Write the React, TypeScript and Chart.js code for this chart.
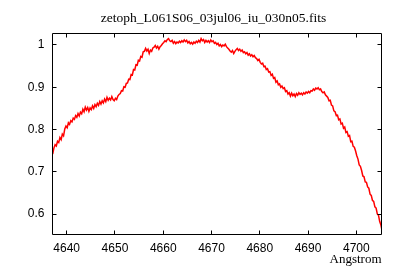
import React, { useEffect, useRef } from "react";
import { Chart, registerables } from "chart.js";

Chart.register(...registerables);

const TITLE = "zetoph_L061S06_03jul06_iu_030n05.fits";
const X_LABEL = "Angstrom";
const X_TICKS = [4640, 4650, 4660, 4670, 4680, 4690, 4700];
const Y_TICKS = [0.6, 0.7, 0.8, 0.9, 1.0];
const X_MIN = 4637.06;
const X_MAX = 4705.22;
const Y_MIN = 0.5515;
const Y_MAX = 1.0272;

// spectrum sampled every 0.25 Angstrom starting at 4637.1
const WAVE_START = 4637.1;
const WAVE_STEP = 0.25;
const FLUX = [
  0.742, 0.756, 0.764, 0.761, 0.772, 0.769, 0.781, 0.776, 0.789, 0.785,
  0.801, 0.808, 0.804, 0.816, 0.812, 0.821, 0.818, 0.827, 0.824, 0.833,
  0.829, 0.838, 0.832, 0.841, 0.837, 0.848, 0.842, 0.853, 0.846, 0.852,
  0.843, 0.851, 0.847, 0.856, 0.850, 0.859, 0.854, 0.862, 0.857, 0.866,
  0.860, 0.868, 0.863, 0.872, 0.866, 0.876, 0.869, 0.874, 0.870, 0.878,
  0.871, 0.868, 0.874, 0.871, 0.879, 0.883, 0.885, 0.892, 0.891, 0.901,
  0.900, 0.909, 0.910, 0.919, 0.918, 0.930, 0.929, 0.942, 0.941, 0.953,
  0.952, 0.964, 0.962, 0.973, 0.971, 0.984, 0.985, 0.992, 0.986, 0.990,
  0.980, 0.988, 0.985, 0.993, 0.995, 0.999, 0.993, 0.997, 0.990, 0.996,
  0.999, 1.003, 1.006, 1.010, 1.008, 1.013, 1.015, 1.010, 1.008, 1.011,
  1.004, 1.008, 1.003, 1.007, 1.005, 1.009, 1.006, 1.010, 1.007, 1.012,
  1.008, 1.011, 1.005, 1.008, 1.003, 1.006, 1.002, 1.007, 1.004, 1.009,
  1.006, 1.011, 1.007, 1.015, 1.010, 1.013, 1.006, 1.011, 1.007, 1.010,
  1.006, 1.012, 1.008, 1.010, 1.004, 1.006, 1.001, 1.004, 0.998, 1.001,
  0.996, 1.000, 0.998, 1.002, 0.996, 0.993, 0.990, 0.986, 0.983, 0.987,
  0.980, 0.985, 0.989, 0.992, 0.987, 0.990, 0.985, 0.988, 0.982, 0.984,
  0.979, 0.982, 0.976, 0.979, 0.974, 0.977, 0.972, 0.975, 0.970, 0.968,
  0.963, 0.966, 0.959, 0.955, 0.957, 0.949, 0.950, 0.942, 0.944, 0.936,
  0.937, 0.928, 0.931, 0.921, 0.923, 0.912, 0.915, 0.906, 0.908, 0.900,
  0.903, 0.897, 0.899, 0.890, 0.892, 0.884, 0.887, 0.879, 0.886, 0.880,
  0.884, 0.878, 0.885, 0.881, 0.887, 0.883, 0.886, 0.882, 0.887, 0.884,
  0.889, 0.886, 0.890, 0.887, 0.892, 0.891, 0.896, 0.893, 0.898, 0.896,
  0.899, 0.894, 0.896, 0.890, 0.887, 0.889, 0.882, 0.879, 0.876, 0.868,
  0.869, 0.858, 0.856, 0.844, 0.842, 0.833, 0.834, 0.823, 0.825, 0.813,
  0.815, 0.803, 0.806, 0.793, 0.795, 0.784, 0.786, 0.771, 0.772, 0.760,
  0.758, 0.749, 0.738, 0.730, 0.716, 0.713, 0.703, 0.690, 0.688, 0.676,
  0.675, 0.664, 0.661, 0.647, 0.644, 0.632, 0.630, 0.617, 0.614, 0.600,
  0.597, 0.582, 0.574, 0.560,
];

const SERIF = "'Liberation Serif', 'Times New Roman', serif";
const SANS = "'Liberation Sans', Arial, sans-serif";

const frameTicks = {
  id: "frameTicks",
  afterDatasetsDraw(chart: any) {
    const { ctx, chartArea: a, scales } = chart;
    const L = 4;
    ctx.save();
    ctx.strokeStyle = "#000";
    ctx.lineWidth = 1;
    ctx.beginPath();
    ctx.rect(a.left, a.top, a.right - a.left, a.bottom - a.top);
    for (const t of scales.x.ticks) {
      const px = Math.round(scales.x.getPixelForValue(t.value) - 0.5) + 0.5;
      ctx.moveTo(px, a.bottom);
      ctx.lineTo(px, a.bottom - L);
      ctx.moveTo(px, a.top);
      ctx.lineTo(px, a.top + L);
    }
    for (const t of scales.y.ticks) {
      const py = Math.round(scales.y.getPixelForValue(t.value) - 0.5) + 0.5;
      ctx.moveTo(a.left, py);
      ctx.lineTo(a.left + L, py);
      ctx.moveTo(a.right, py);
      ctx.lineTo(a.right - L, py);
    }
    ctx.stroke();
    ctx.restore();
  },
};

export default function App() {
  const ref = useRef<HTMLCanvasElement>(null);

  useEffect(() => {
    if (!ref.current) return;
    const points = FLUX.map((y, i) => ({ x: WAVE_START + i * WAVE_STEP, y }));
    const chart = new Chart(ref.current, {
      type: "line",
      data: {
        datasets: [
          {
            data: points,
            borderColor: "#ff0000",
            borderWidth: 1.5,
            pointRadius: 0,
            tension: 0,
            fill: false,
          },
        ],
      },
      options: {
        animation: false,
        responsive: false,
        layout: { padding: { left: 20, right: -7, top: 0, bottom: 0 } },
        plugins: {
          legend: { display: false },
          tooltip: { enabled: false },
          title: {
            display: true,
            text: TITLE,
            color: "#000",
            font: { family: SERIF, size: 13.5, weight: "normal" },
            padding: { top: 10, bottom: 7.3 },
          },
        },
        scales: {
          x: {
            type: "linear",
            min: X_MIN,
            max: X_MAX,
            afterBuildTicks: (s: any) => {
              s.ticks = X_TICKS.map((v) => ({ value: v }));
            },
            afterFit: (s: any) => {
              s.height = 45.5;
            },
            grid: { display: false, drawTicks: false },
            border: { display: false },
            ticks: {
              padding: 7.4,
              color: "#000",
              font: { family: SANS, size: 12 },
              maxRotation: 0,
              autoSkip: false,
              includeBounds: false,
              callback: (v: any) => String(v),
            },
            title: {
              display: true,
              text: X_LABEL,
              align: "end",
              color: "#000",
              font: { family: SERIF, size: 13 },
              padding: { top: 0, bottom: 12.6 },
            },
          },
          y: {
            type: "linear",
            position: "left",
            min: Y_MIN,
            max: Y_MAX,
            afterBuildTicks: (s: any) => {
              s.ticks = Y_TICKS.map((v) => ({ value: v }));
            },
            afterFit: (s: any) => {
              s.width = 32.5;
            },
            grid: { display: false, drawTicks: false },
            border: { display: false },
            ticks: {
              padding: 8,
              color: "#000",
              font: { family: SANS, size: 12 },
              autoSkip: false,
              includeBounds: false,
              callback: (v: any) => String(Math.round(Number(v) * 10) / 10),
            },
          },
          yRight: {
            type: "linear",
            position: "right",
            min: Y_MIN,
            max: Y_MAX,
            afterFit: (s: any) => {
              s.width = 25.5;
            },
            grid: { display: false, drawTicks: false },
            border: { display: false },
            ticks: { display: false },
          },
        },
      },
      plugins: [frameTicks],
    } as any);
    return () => chart.destroy();
  }, []);

  return (
    <div
      style={{
        position: "fixed",
        left: 0,
        top: 0,
        width: 400,
        height: 280,
        background: "#fff",
      }}
    >
      <canvas
        ref={ref}
        width={400}
        height={280}
        style={{ display: "block", width: 400, height: 280 }}
      />
    </div>
  );
}
